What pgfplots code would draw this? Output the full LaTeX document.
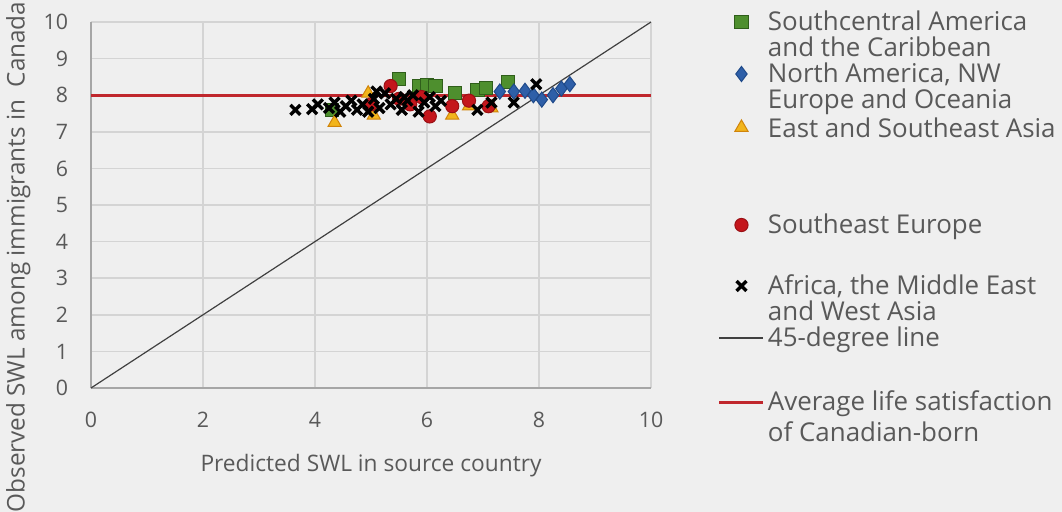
\documentclass[border=0pt]{standalone}
\usepackage{fontspec}
\setmainfont{Open Sans}
\usepackage{pgfplots}
\pgfplotsset{compat=1.18}
\definecolor{txt}{HTML}{595959}
\definecolor{bg}{HTML}{EFEFEF}
\definecolor{gridc}{HTML}{D4D4D4}
\definecolor{axc}{HTML}{A6A6A6}
\definecolor{grn}{HTML}{4E8F2E}
\definecolor{grnd}{HTML}{2F5E1A}
\definecolor{blu}{HTML}{2E5FA8}
\definecolor{blud}{HTML}{1F4A8A}
\definecolor{yel}{HTML}{F2B51C}
\definecolor{yeld}{HTML}{D0840A}
\definecolor{rd}{HTML}{C4161C}
\definecolor{rdd}{HTML}{9A1015}
\definecolor{redline}{HTML}{C0272D}
\tikzset{lt/.style={text height=10.5bp,text depth=2.5bp,inner sep=0pt}}
\pgfplotsset{
 mklegend/.style={legend image code/.code={\path[draw=none,fill=none] (0bp,0bp) (22bp,0bp); \draw[##1] plot coordinates {(11bp,0bp)};}},
 lnlegend/.style={legend image code/.code={\draw[##1] (0bp,0bp) -- (22bp,0bp);}},
}
\begin{document}
\begin{tikzpicture}
\fill[bg] (-45.5bp,-62bp) rectangle (485.5bp,194bp);
\path[use as bounding box] (-45.5bp,-62bp) rectangle (485.5bp,194bp);
\begin{axis}[
 scale only axis, width=280bp, height=183bp, at={(0,0)}, anchor=south west,
 xmin=0, xmax=10, ymin=0, ymax=10,
 xtick={0,2,...,10}, ytick={0,1,...,10},
 axis x line*=bottom, axis y line*=left,
 axis line style={axc, line width=0.8pt, -},
 grid=major, major grid style={gridc, line width=0.8pt},
 major tick length=0pt,
 /pgf/number format/assume math mode=true,
 tick label style={font=\fontsize{10.7}{13}\selectfont, text=txt},
 xticklabel style={anchor=center, yshift=-16bp},
 yticklabel style={anchor=east, xshift=-8bp},
 xlabel={Predicted SWL in source country},
 xlabel style={font=\fontsize{11.4}{13}\selectfont, text=txt, at={(axis description cs:0.5,-0.213)}, anchor=center},
 ylabel={Observed SWL among immigrants in\ \ Canada},
 ylabel style={font=\fontsize{12.2}{14}\selectfont, text=txt, at={(axis description cs:-0.13,0.358)}, anchor=center},
 legend cell align=left,
 legend style={at={(axis description cs:1.1196,1.0355)}, anchor=north west,
   draw=none, fill=none, inner sep=0pt, outer sep=0pt, row sep=0pt, column sep=1.5bp,
   font=\fontsize{13}{13}\selectfont, text=txt, nodes={inner sep=0pt}},
 mklegend,
]
\addplot[forget plot, black!75, line width=0.6pt] coordinates {(0,0) (10,10)};
\addplot[forget plot, redline, line width=1.5pt] coordinates {(0,8) (10,8)};

% Southcentral America and the Caribbean
\addplot[only marks, mark=square*, mark size=3.3bp, mark options={fill=grn, draw=grnd, line width=0.5pt}] coordinates {
(4.30,7.60) (5.50,8.45) (5.85,8.25) (6.00,8.28) (6.15,8.25) (6.50,8.05) (6.90,8.15) (7.05,8.20) (7.45,8.35)
};
\addlegendentry[lt]{Southcentral America}
\addlegendimage{empty legend}\addlegendentry[lt]{and the Caribbean}

% North America, NW Europe and Oceania
\addplot[only marks, mark=diamond*, mark size=3.8bp, mark options={fill=blu, draw=blud, line width=0.5pt}] coordinates {
(7.30,8.10) (7.55,8.10) (7.75,8.12) (7.90,8.00) (8.05,7.88) (8.25,8.00) (8.40,8.18) (8.55,8.30)
};
\addlegendentry[lt]{North America, NW}
\addlegendimage{empty legend}\addlegendentry[lt]{Europe and Oceania}

% East and Southeast Asia
\addplot[only marks, mark=triangle*, mark size=3.8bp, mark options={fill=yel, draw=yeld, line width=0.5pt}] coordinates {
(4.35,7.25) (4.95,8.05) (5.05,7.45) (6.45,7.45) (6.75,7.70) (7.15,7.65)
};
\addlegendentry[lt, text height=12bp]{East and Southeast Asia}
\addlegendimage{empty legend}\addlegendentry[text height=35bp,text depth=0pt,inner sep=0pt]{}

% Southeast Europe
\addplot[only marks, mark=*, mark size=3.3bp, mark options={fill=rd, draw=rdd, line width=0.5pt}] coordinates {
(5.35,8.25) (5.70,7.75) (5.90,7.95) (6.05,7.42) (6.45,7.70) (6.75,7.85) (7.10,7.70) (5.50,7.90) (5.00,7.75)
};
\addlegendentry[lt]{Southeast Europe}
\addlegendimage{empty legend}\addlegendentry[text height=17.5bp,text depth=0pt,inner sep=0pt]{}

% Africa, the Middle East and West Asia
\addplot[only marks, mark=x, mark size=3.5bp, mark options={draw=black, line width=1.7pt}] coordinates {
(3.65,7.60) (3.95,7.62) (4.05,7.75) (4.25,7.65) (4.35,7.80) (4.55,7.70) (4.65,7.85) (4.75,7.60)
(4.85,7.75) (4.95,7.55) (5.05,7.90) (5.15,7.65) (5.25,8.05) (5.35,7.75) (5.45,7.90) (5.55,7.60)
(5.65,7.85) (5.75,8.00) (5.85,7.55) (5.95,7.80) (6.05,7.95) (6.15,7.70) (6.25,7.85) (6.90,7.60)
(7.15,7.80) (7.55,7.80) (7.95,8.30) (5.10,8.10) (4.45,7.55) (5.60,7.95)
};
\addlegendentry[lt]{Africa, the Middle East}
\addlegendimage{empty legend}\addlegendentry[lt]{and West Asia}

\addlegendimage{black!75, line width=0.6pt, lnlegend}\addlegendentry[lt]{45-degree line}
\addlegendimage{empty legend}\addlegendentry[text height=19bp,text depth=0pt,inner sep=0pt]{}
\addlegendimage{redline, line width=1.5pt, lnlegend}\addlegendentry[lt]{Average life satisfaction}
\addlegendimage{empty legend}\addlegendentry[lt, text height=13bp]{of Canadian-born}
\end{axis}
\end{tikzpicture}
\end{document}
